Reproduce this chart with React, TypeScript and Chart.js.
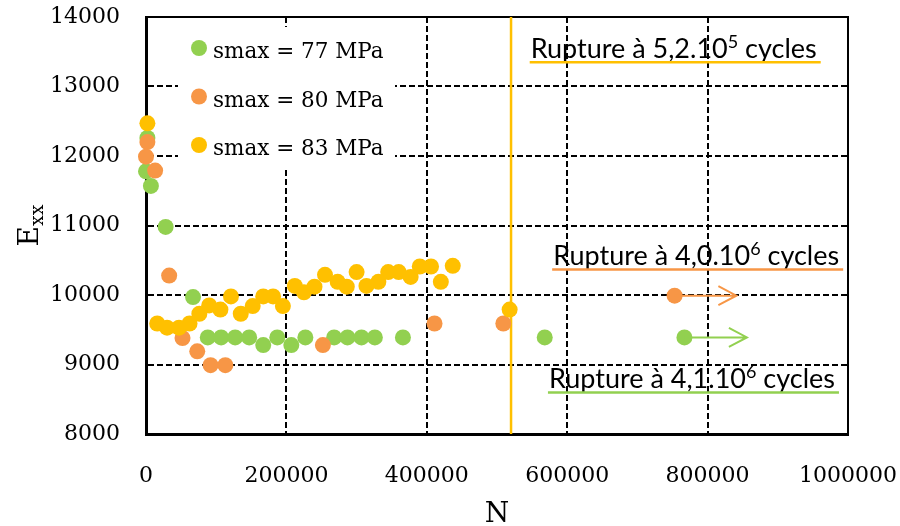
import React, { useEffect, useRef } from 'react';
import { Chart, registerables } from 'chart.js';

Chart.register(...registerables);

// ---------- data ----------
const SERIES_LABELS = ['smax = 77 MPa', 'smax = 80 MPa', 'smax = 83 MPa'];
const SERIES_COLORS = ['#92D050', '#F79646', '#FFC000'];

const N_77 = [2000, 0, 7000, 28000, 67000, 88000, 107000, 127000, 147000, 167000, 187000, 207000, 227000, 268000, 287000, 307000, 326000, 366000, 568000, 767000];
const E_77 = [12260, 11780, 11570, 10980, 9970, 9390, 9390, 9390, 9390, 9280, 9390, 9280, 9390, 9390, 9390, 9390, 9390, 9390, 9390, 9390];

const N_80 = [2000, 0, 13000, 33000, 52000, 73000, 92000, 113000, 252000, 411000, 509000, 753000];
const E_80 = [12200, 11990, 11790, 10280, 9380, 9190, 8990, 8990, 9280, 9590, 9590, 9990];

const N_83 = [2000, 16000, 30000, 47000, 62000, 76000, 90000, 106000, 121000, 135000, 152000, 167000, 181000, 195000, 212000, 225000, 240000, 255000, 273000, 286000, 300000, 314000, 331000, 345000, 360000, 377000, 390000, 406000, 420000, 437000, 518000];
const E_83 = [12470, 9590, 9530, 9530, 9590, 9730, 9850, 9790, 9980, 9730, 9840, 9980, 9980, 9840, 10130, 10040, 10120, 10290, 10190, 10120, 10330, 10130, 10190, 10330, 10330, 10260, 10410, 10410, 10190, 10420, 9790];

const X_MIN = 0;
const X_MAX = 1000000;
const X_STEP = 200000;
const Y_MIN = 8000;
const Y_MAX = 14000;
const Y_STEP = 1000;

const X_TITLE = 'N';
const Y_TITLE_MAIN = 'E';
const Y_TITLE_SUB = 'xx';

// rupture line of the 83 MPa series
const RUPTURE_N_83 = 520000;

// run-out arrows
const ARROW_SERIES = [1, 0];
const ARROW_FROM = [753000, 767000];
const ARROW_TO = [841000, 856000];
const ARROW_E = [9990, 9390];

// annotations
const ANNOT_TEXT = ['Rupture à 5,2.10', 'Rupture à 4,0.10', 'Rupture à 4,1.10'];
const ANNOT_EXP = ['5', '6', '6'];
const ANNOT_TAIL = [' cycles', ' cycles', ' cycles'];
const ANNOT_SERIES = [2, 1, 0];
const ANNOT_N = [548000, 580000, 574000];
const ANNOT_E = [13414, 10433, 8662];

const SERIF = '"DejaVu Serif", serif';
const SANS = 'Lato, "Open Sans", sans-serif';

const toPoints = (xs: number[], ys: number[]) => xs.map((x, i) => ({ x, y: ys[i] }));

const overlayPlugin = {
  id: 'overlay',
  beforeDatasetsDraw(chart: any) {
    const { ctx, chartArea: ca, scales } = chart;
    const x = scales.x;
    ctx.save();
    ctx.setLineDash([]);
    ctx.strokeStyle = '#000';
    ctx.lineWidth = 2;
    ctx.beginPath();
    ctx.moveTo(ca.left, ca.top);
    ctx.lineTo(ca.right, ca.top);
    ctx.lineTo(ca.right, ca.bottom);
    ctx.stroke();
    const xr = x.getPixelForValue(RUPTURE_N_83);
    ctx.strokeStyle = SERIES_COLORS[2];
    ctx.lineWidth = 2.5;
    ctx.beginPath();
    ctx.moveTo(xr, ca.top);
    ctx.lineTo(xr, ca.bottom);
    ctx.stroke();
    ctx.fillStyle = '#fff';
    ctx.fillRect(ca.left + 32, ca.top + 10, 217, 141);
    ctx.restore();
  },
  afterDatasetsDraw(chart: any) {
    const { ctx, chartArea: ca, scales } = chart;
    const x = scales.x;
    const y = scales.y;
    ctx.save();
    ctx.setLineDash([]);
    for (let i = 0; i < SERIES_LABELS.length; i++) {
      const cx = ca.left + 53;
      const cy = ca.top + 31 + i * 48.5;
      ctx.fillStyle = SERIES_COLORS[i];
      ctx.beginPath();
      ctx.arc(cx, cy, 8, 0, Math.PI * 2);
      ctx.fill();
      ctx.fillStyle = '#000';
      ctx.font = `21.5px ${SERIF}`;
      ctx.textAlign = 'left';
      ctx.textBaseline = 'alphabetic';
      ctx.fillText(SERIES_LABELS[i], cx + 14, cy + 10);
    }
    for (let i = 0; i < ARROW_FROM.length; i++) {
      const x1 = x.getPixelForValue(ARROW_FROM[i]);
      const x2 = x.getPixelForValue(ARROW_TO[i]);
      const yy = y.getPixelForValue(ARROW_E[i]);
      ctx.strokeStyle = SERIES_COLORS[ARROW_SERIES[i]];
      ctx.lineWidth = 2;
      ctx.beginPath();
      ctx.moveTo(x1, yy);
      ctx.lineTo(x2, yy);
      ctx.moveTo(x2 - 18, yy - 9.5);
      ctx.lineTo(x2, yy);
      ctx.lineTo(x2 - 18, yy + 9.5);
      ctx.stroke();
    }
    for (let i = 0; i < ANNOT_TEXT.length; i++) {
      const tx = x.getPixelForValue(ANNOT_N[i]);
      const ty = y.getPixelForValue(ANNOT_E[i]);
      ctx.fillStyle = '#000';
      ctx.textAlign = 'left';
      ctx.textBaseline = 'alphabetic';
      ctx.font = `27px ${SANS}`;
      ctx.fillText(ANNOT_TEXT[i], tx, ty);
      let w = ctx.measureText(ANNOT_TEXT[i]).width;
      ctx.font = `18px ${SANS}`;
      ctx.fillText(ANNOT_EXP[i], tx + w, ty - 10);
      w += ctx.measureText(ANNOT_EXP[i]).width;
      ctx.font = `27px ${SANS}`;
      ctx.fillText(ANNOT_TAIL[i], tx + w, ty);
      w += ctx.measureText(ANNOT_TAIL[i]).width;
      ctx.strokeStyle = SERIES_COLORS[ANNOT_SERIES[i]];
      ctx.lineWidth = 2.5;
      ctx.beginPath();
      ctx.moveTo(tx - 1, ty + 4.5);
      ctx.lineTo(tx + w + 4, ty + 4.5);
      ctx.stroke();
    }
    ctx.restore();
  },
  afterDraw(chart: any) {
    const { ctx, chartArea: ca } = chart;
    ctx.save();
    ctx.fillStyle = '#000';
    ctx.font = `28px ${SERIF}`;
    ctx.textAlign = 'center';
    ctx.textBaseline = 'alphabetic';
    ctx.fillText(X_TITLE, (ca.left + ca.right) / 2, 522);
    ctx.translate(38, (ca.top + ca.bottom) / 2);
    ctx.rotate(-Math.PI / 2);
    ctx.font = `28px ${SERIF}`;
    const w1 = ctx.measureText(Y_TITLE_MAIN).width;
    ctx.font = `19px ${SERIF}`;
    const w2 = ctx.measureText(Y_TITLE_SUB).width;
    const start = -(w1 + w2) / 2;
    ctx.textAlign = 'left';
    ctx.font = `28px ${SERIF}`;
    ctx.fillText(Y_TITLE_MAIN, start, 0);
    ctx.font = `19px ${SERIF}`;
    ctx.fillText(Y_TITLE_SUB, start + w1, 5);
    ctx.restore();
  },
};

const zeroPad = (s: any) => {
  s.paddingTop = 0;
  s.paddingBottom = 0;
  s.paddingLeft = 0;
  s.paddingRight = 0;
};

export default function App() {
  const canvasRef = useRef<HTMLCanvasElement | null>(null);

  useEffect(() => {
    if (!canvasRef.current) return;
    const mk = (i: number, xs: number[], ys: number[], order: number) => ({
      label: SERIES_LABELS[i],
      data: toPoints(xs, ys),
      backgroundColor: SERIES_COLORS[i],
      borderColor: SERIES_COLORS[i],
      pointRadius: 8,
      pointHoverRadius: 8,
      borderWidth: 0,
      pointBorderWidth: 0,
      clip: false as any,
      order,
    });
    const chart = new Chart(canvasRef.current, {
      type: 'scatter',
      data: {
        datasets: [mk(0, N_77, E_77, 3), mk(1, N_80, E_80, 2), mk(2, N_83, E_83, 1)],
      },
      options: {
        animation: false,
        responsive: false,
        devicePixelRatio: 1,
        layout: { padding: { top: 17, right: 52, left: 0, bottom: 0 } },
        plugins: {
          legend: { display: false },
          tooltip: { enabled: false },
        },
        scales: {
          x: {
            type: 'linear',
            min: X_MIN,
            max: X_MAX,
            ticks: {
              stepSize: X_STEP,
              padding: 29,
              color: '#000',
              font: { family: SERIF, size: 22 },
              callback: (v: any) => String(v),
              maxRotation: 0,
            },
            grid: { color: '#000', lineWidth: 2, drawTicks: false },
            border: { display: true, color: '#000', width: 3, dash: [6, 3] },
            afterFit: (s: any) => { s.height = 92; zeroPad(s); },
          },
          y: {
            type: 'linear',
            min: Y_MIN,
            max: Y_MAX,
            ticks: {
              stepSize: Y_STEP,
              padding: 26,
              color: '#000',
              font: { family: SERIF, size: 22 },
              callback: (v: any) => String(v),
            },
            grid: { color: '#000', lineWidth: 2, drawTicks: false },
            border: { display: true, color: '#000', width: 3, dash: [6, 3] },
            afterFit: (s: any) => { s.width = 146; zeroPad(s); },
          },
        },
      },
      plugins: [overlayPlugin],
    });
    return () => chart.destroy();
  }, []);

  return (
    <div style={{ position: 'absolute', left: 0, top: 0, width: 900, height: 526, background: '#fff' }}>
      <canvas ref={canvasRef} width={900} height={526} />
    </div>
  );
}
